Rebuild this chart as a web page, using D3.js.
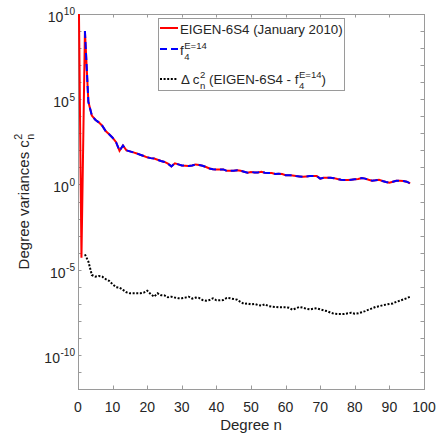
<!DOCTYPE html>
<html>
<head>
<meta charset="utf-8">
<script src="https://cdn.jsdelivr.net/npm/d3@7"></script>
<style>
  body { margin: 0; background: #fff; }
  text { font-family: "Liberation Sans", Arial, sans-serif; fill: #262626; white-space: pre; }
</style>
</head>
<body>
<div id="chart"></div>
<script>
// degree variances, index = degree n (eigen starts at n=0, the others at n=2)
let eigenValues = [4e15, 5e-5, 1e9, 7.1e4, 1.1e4, 6.3e3, 4.4e3, 2.8e3, 1.35e3, 870, 550,
    300, 95, 195, 100, 87, 76, 66, 55, 47, 39,
    35, 33, 28, 24, 21, 16.6, 11.5, 17.4, 15, 13,
    12.6, 12, 13, 15, 14, 12.6, 10.5, 8.7, 7.9, 7.6,
    7.6, 7.6, 6.3, 6.3, 6.3, 6.9, 6.3, 5.6, 4.9, 5.4,
    5.1, 5.1, 5.6, 4.9, 4.7, 4.7, 4.1, 4.3, 4.1, 3.5,
    3.5, 3.4, 3.1, 2.95, 2.8, 2.95, 3.1, 3.1, 3.1, 2.2,
    2.5, 2.45, 2.45, 2.35, 2.1, 1.9, 1.8, 1.8, 1.9, 2.0,
    2.1, 2.35, 2.2, 1.9, 1.66, 1.74, 1.9, 1.6, 1.38, 1.26,
    1.45, 1.66, 1.66, 1.6, 1.45, 1.15];

let f4Values = [1e9, 7.1e4, 1.1e4, 6.3e3, 4.4e3, 2.8e3, 1.35e3, 870, 550,
    300, 95, 195, 100, 87, 76, 66, 55, 47, 39,
    35, 33, 28, 24, 21, 16.6, 11.5, 17.4, 15, 13,
    12.6, 12, 13, 15, 14, 12.6, 10.5, 8.7, 7.9, 7.6,
    7.6, 7.6, 6.3, 6.3, 6.3, 6.9, 6.3, 5.6, 4.9, 5.4,
    5.1, 5.1, 5.6, 4.9, 4.7, 4.7, 4.1, 4.3, 4.1, 3.5,
    3.5, 3.4, 3.1, 2.95, 2.8, 2.95, 3.1, 3.1, 3.1, 2.2,
    2.5, 2.45, 2.45, 2.35, 2.1, 1.9, 1.8, 1.8, 1.9, 2.0,
    2.1, 2.35, 2.2, 1.9, 1.66, 1.74, 1.9, 1.6, 1.38, 1.26,
    1.45, 1.66, 1.66, 1.6, 1.45, 1.15];

let deltaValues = [7.9e-5, 3.0e-5, 4.9e-6, 3.9e-6, 4.3e-6, 3.9e-6, 2.8e-6, 2.2e-6, 1.4e-6,
    9.5e-7, 8.9e-7, 6.5e-7, 4.7e-7, 4.1e-7, 4.1e-7, 4.1e-7, 4.1e-7, 4.5e-7, 5.9e-7,
    3.7e-7, 2.6e-7, 4.1e-7, 3.2e-7, 3.1e-7, 2.4e-7, 2.6e-7, 2.3e-7, 2.1e-7, 2.1e-7,
    2.3e-7, 2.6e-7, 2.0e-7, 2.3e-7, 2.2e-7, 1.66e-7, 1.5e-7, 1.66e-7, 2.1e-7, 1.6e-7,
    1.6e-7, 1.66e-7, 2.2e-7, 2.1e-7, 1.9e-7, 1.74e-7, 1.26e-7, 9.8e-8, 1.05e-7, 9.3e-8,
    9.8e-8, 8.5e-8, 7.8e-8, 9.3e-8, 7.4e-8, 6.8e-8, 6.5e-8, 6.2e-8, 6.2e-8, 6.2e-8,
    5.9e-8, 4.5e-8, 5.4e-8, 6.5e-8, 5.9e-8, 5.1e-8, 4.7e-8, 5.1e-8, 5.4e-8, 4.7e-8,
    4.1e-8, 3.7e-8, 3.0e-8, 2.6e-8, 2.5e-8, 2.5e-8, 2.5e-8, 2.75e-8, 3.0e-8, 2.6e-8,
    2.75e-8, 3.2e-8, 3.7e-8, 4.5e-8, 5.4e-8, 6.5e-8, 7.1e-8, 8.1e-8, 8.9e-8, 9.8e-8,
    1.05e-7, 1.3e-7, 1.5e-7, 1.8e-7, 2.1e-7, 2.6e-7];

let xTicks = [0, 10, 20, 30, 40, 50, 60, 70, 80, 90, 100];
let yLabelExps = [-10, -5, 0, 5, 10];

let svgWidth = 442;
let svgHeight = 437;
let margin = { top: 14, right: 18, bottom: 48, left: 78 };
let width = svgWidth - margin.left - margin.right;
let height = svgHeight - margin.top - margin.bottom;
let fontSize = 14;
let legendFont = 13.3;
let axisColor = '#9a9a9a';

let svg = d3.select('#chart')
    .append('svg')
    .attr('width', svgWidth)
    .attr('height', svgHeight);

let x = d3.scaleLinear().domain([0, 100]).range([0, width]);
let y = d3.scaleLog().domain([1e-12, 1e10]).range([height, 0]);

let chartgroup = svg.append('g')
    .attr('transform', `translate(${margin.left},${margin.top})`);

svg.append('defs').append('clipPath').attr('id', 'clip')
    .append('rect').attr('width', width).attr('height', height);

// text with stacked super/subscripts like matlab's tex interpreter
function richText(sel, x0, y0, parts, size) {
    let g = sel.append('g');
    let cx = x0;
    parts.forEach(p => {
        if (p.t) {
            let t = g.append('text').attr('x', cx).attr('y', y0)
                .style('font-size', size + 'px').text(p.t);
            cx += t.node().getComputedTextLength();
        }
        let w = 0;
        if (p.sup) {
            let s = g.append('text').attr('x', cx + 0.5).attr('y', y0 - size * 0.48)
                .style('font-size', (size * 0.72) + 'px').text(p.sup);
            w = Math.max(w, s.node().getComputedTextLength() + 0.5);
        }
        if (p.sub) {
            let s = g.append('text').attr('x', cx + 0.5).attr('y', y0 + size * 0.34)
                .style('font-size', (size * 0.72) + 'px').text(p.sub);
            w = Math.max(w, s.node().getComputedTextLength() + 0.5);
        }
        cx += w;
    });
    return { g: g, w: cx - x0 };
}

// ticks on all four sides, pointing inwards
let tickLen = 3.5;
let tickG = chartgroup.append('g').attr('stroke', axisColor).attr('stroke-width', 1);
xTicks.forEach(t => {
    let px = Math.round(x(t)) + 0.5;
    tickG.append('line').attr('x1', px).attr('x2', px).attr('y1', height).attr('y2', height - tickLen);
    tickG.append('line').attr('x1', px).attr('x2', px).attr('y1', 0).attr('y2', tickLen);
});
d3.range(-12, 11).forEach(e => {
    let py = Math.round(y(Math.pow(10, e))) + 0.5;
    tickG.append('line').attr('x1', 0).attr('x2', tickLen).attr('y1', py).attr('y2', py);
    tickG.append('line').attr('x1', width).attr('x2', width - tickLen).attr('y1', py).attr('y2', py);
});

chartgroup.append('rect')
    .attr('x', 0.5).attr('y', 0.5)
    .attr('width', width).attr('height', height)
    .attr('fill', 'none').attr('stroke', axisColor).attr('stroke-width', 1);

// x tick labels
xTicks.forEach(t => {
    chartgroup.append('text')
        .attr('x', x(t)).attr('y', height + 23)
        .attr('text-anchor', 'middle')
        .style('font-size', fontSize + 'px')
        .text(t);
});

// y tick labels 10^e
yLabelExps.forEach(e => {
    let r = richText(chartgroup, 0, 0, [{ t: '10', sup: String(e).replace('-', '\u2011') }], fontSize);
    r.g.attr('transform', `translate(${-3 - r.w},${y(Math.pow(10, e)) + 8})`);
});

// axis titles
chartgroup.append('text')
    .attr('x', width / 2).attr('y', height + 41)
    .attr('text-anchor', 'middle')
    .style('font-size', '15px')
    .text('Degree n');

let ylab = richText(chartgroup, 0, 0, [{ t: 'Degree variances c', sup: '2', sub: 'n' }], 15);
ylab.g.attr('transform', `translate(${-49},${height / 2 + ylab.w / 2}) rotate(-90)`);

// lines
let line = d3.line()
    .x(d => x(d[0]))
    .y(d => y(d[1]));

let plotG = chartgroup.append('g').attr('clip-path', 'url(#clip)');

plotG.append('path')
    .datum(eigenValues.map((v, i) => [i, v]))
    .attr('d', line)
    .attr('fill', 'none')
    .attr('stroke', '#ff0000')
    .attr('stroke-width', 2);

plotG.append('path')
    .datum(f4Values.map((v, i) => [i + 2, v]))
    .attr('d', line)
    .attr('fill', 'none')
    .attr('stroke', '#0000ff')
    .attr('stroke-width', 2)
    .attr('stroke-dasharray', '7,4');

plotG.append('path')
    .datum(deltaValues.map((v, i) => [i + 2, v]))
    .attr('d', line)
    .attr('fill', 'none')
    .attr('stroke', '#000')
    .attr('stroke-width', 2)
    .attr('stroke-dasharray', '2,1.6');

// legend
let legend = svg.append('g');
legend.append('rect')
    .attr('x', 158.5).attr('y', 18.5)
    .attr('width', 186).attr('height', 72)
    .attr('fill', '#fff').attr('stroke', axisColor).attr('stroke-width', 1);

legend.append('line').attr('x1', 160).attr('x2', 178).attr('y1', 28).attr('y2', 28)
    .attr('stroke', '#ff0000').attr('stroke-width', 2);
richText(legend, 180, 34, [{ t: 'EIGEN-6S4 (January 2010)' }], legendFont);

legend.append('line').attr('x1', 160).attr('x2', 178).attr('y1', 49).attr('y2', 49)
    .attr('stroke', '#0000ff').attr('stroke-width', 2).attr('stroke-dasharray', '7,4');
richText(legend, 180, 55, [{ t: 'f', sup: 'E=14', sub: '4' }], legendFont);

legend.append('line').attr('x1', 160).attr('x2', 178).attr('y1', 79).attr('y2', 79)
    .attr('stroke', '#000').attr('stroke-width', 2).attr('stroke-dasharray', '2,1.6');
richText(legend, 181, 84, [
    { t: '\u0394 c', sup: '2', sub: 'n' },
    { t: ' (EIGEN-6S4 - f', sup: 'E=14', sub: '4' },
    { t: ')' }
], legendFont);
</script>
</body>
</html>
